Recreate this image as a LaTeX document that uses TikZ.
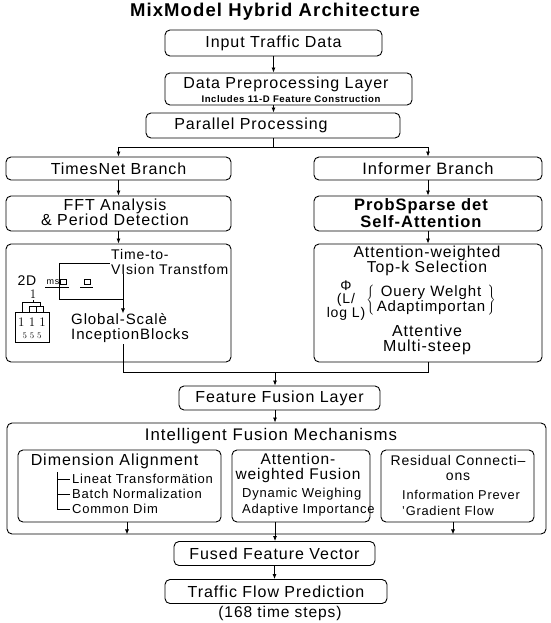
\documentclass[tikz,border=0pt]{standalone}
\usepackage{fontspec}
\setsansfont{Liberation Sans}[LetterSpace=6]
\renewcommand{\familydefault}{\sfdefault}
\usetikzlibrary{positioning,arrows.meta}

\begin{document}
\begin{tikzpicture}[x=1pt,y=-1pt,
  box/.style={draw, rounded corners=5pt, line width=0.9pt, inner sep=0pt},
  lbl/.style={font=\fontsize{16}{15}\selectfont, inner sep=0pt, align=center},
  sml/.style={font=\fontsize{13}{15}\selectfont, inner sep=0pt, align=left},
  arr/.style={-{Latex[length=5pt,width=4pt]}, line width=0.8pt},
  ln/.style={line width=0.8pt}]
\useasboundingbox (0,0) rectangle (550,623);
% Title
\node[font=\fontsize{18.5}{20}\selectfont\bfseries, inner sep=0pt] (title) at (275,12) {MixModel Hybrid Architecture};
% Input and preprocessing
\node[box, lbl, minimum width=217pt, minimum height=26pt] (input) at (273.5,43) {Input Traffic Data};
\node[box, minimum width=247pt, minimum height=32pt] (prep) at (288.5,89) {};
\node[lbl] (prep-t) at (286,84.5) {Data Preprocessing Layer};
\node[font=\fontsize{9.6}{10}\selectfont\bfseries, inner sep=0pt] (prep-s) at (291,99.5) {Includes 11-D Feature Construction};
\node[box, minimum width=254pt, minimum height=25pt] (parallel) at (273,125.5) {};
\node[lbl] (parallel-t) at (251,125) {Parallel Processing};
\coordinate (split) at (273,147);
\draw[arr] (input.south) -- (input.south |- prep.north);
\draw[arr] (input.south |- prep.south) -- (input.south |- parallel.north);
\draw[ln] (parallel.south) -- (split);
% Two branches
\node[box, lbl, minimum width=225pt, minimum height=23pt] (timesnet) at (118.5,168.5) {TimesNet Branch};
\node[box, lbl, minimum width=228pt, minimum height=23pt, font=\fontsize{16.5}{15}\selectfont] (informer) at (428,168.5) {Informer Branch};
\draw[arr] (split) -| (timesnet.north);
\draw[arr] (split) -| (informer.north);
\node[box, minimum width=225pt, minimum height=35pt] (fft) at (118.5,213.5) {};
\node[lbl] (fft-t) at (115,212.5) {FFT Analysis\\\& Period Detection};
\node[box, minimum width=228pt, minimum height=35pt] (prob) at (428,213.5) {};
\node[lbl, font=\fontsize{16.5}{14.5}\selectfont\bfseries] (prob-t) at (421,213) {ProbSparse det\\Self-Attention};
\node[box, minimum width=225pt, minimum height=118pt] (tvbox) at (118.5,303) {};
\node[box, minimum width=228pt, minimum height=118pt] (attbox) at (428,303) {};
\draw[arr] (timesnet) -- (fft);
\draw[arr] (fft) -- (tvbox);
\draw[arr] (informer) -- (prob);
\draw[arr] (prob) -- (attbox);
% Inside TimesNet block
\node[lbl, anchor=west, align=left, font=\fontsize{14}{15}\selectfont] (tvt) at (111,261.5) {Time-to-\\VIsion Transtfom};
\node[lbl, anchor=west, align=left, font=\fontsize{15}{14.5}\selectfont] (incep) at (71,328) {Global-Scalè\\InceptionBlocks};
\coordinate (tvout) at (123,344);
\draw[ln] (59,263) -- (110,263);
\draw[ln] (59,263) -- (59,299) -- (123,299);
\draw[arr] (tvt.south -| tvout) -- (tvout |- incep.north);
\node[font=\fontsize{14}{14}\selectfont, inner sep=0pt] (twod) at (27,281) {2D};
\node[font=\fontsize{9}{9}\selectfont, inner sep=0pt] (msu) at (53,282) {ms};
\draw[line width=0.5pt] (60,279.5) rectangle (66,284.5);
\draw[line width=0.5pt] (84,279) rectangle (90,284.5);
\draw[line width=0.5pt] (45,287) -- (69,287) (80,287) -- (93,287);
\node[font=\rmfamily\fontsize{13}{13}\selectfont, inner sep=0pt] (one) at (33,294) {1};
\draw[line width=0.6pt] (33,300) -- (33,302);
\draw[line width=0.6pt] (22,312) |- (40,302) -- (40,306);
\draw[line width=0.6pt] (29,312) |- (43,306) -- (43,312);
\draw[line width=0.6pt] (36,306) -- (36,312);
\node[draw, line width=0.6pt, minimum width=34pt, minimum height=30pt, inner sep=0pt] (grid) at (32,327) {};
\node[font=\rmfamily\fontsize{13}{13}\selectfont, inner sep=0pt] (ones) at (32,322) {1 1 1};
\node[font=\rmfamily\fontsize{8.5}{9}\selectfont, inner sep=0pt] (fives) at (32,336) {5 5 5};
% Inside Informer block
\node[lbl, font=\fontsize{15.8}{14}\selectfont] (topk) at (427,261) {Attention-weighted\\Top-k Selection};
\node[lbl, font=\fontsize{14}{13}\selectfont] (phi) at (346,301) {Φ\\(L/\\log L)};
\node[lbl, font=\fontsize{15}{15}\selectfont] (qw) at (431,300.5) {\renewcommand{\arraystretch}{0.92}$\left\{\begin{tabular}{@{\,}c@{\,}}Ouery Welght\\Adaptimportan\end{tabular}\right\}$};
\node[lbl] (multi) at (427,340) {Attentive\\Multi-steep};
% Merge into fusion
\coordinate (merge) at (275,372);
\draw[ln] (tvout) |- (merge);
\draw[ln] (attbox.south) |- (merge);
\node[box, lbl, minimum width=201pt, minimum height=24pt] (fusion) at (279.5,398) {Feature Fusion Layer};
\draw[arr] (merge) -- (merge |- fusion.north);
% Intelligent fusion mechanisms
\node[box, minimum width=539pt, minimum height=111pt] (ifm) at (276.5,478.5) {};
\node[lbl, font=\fontsize{16.8}{16}\selectfont] (ifm-t) at (271,436) {Intelligent Fusion Mechanisms};
\draw[arr] (merge |- fusion.south) -- (merge |- ifm.north);
\node[box, minimum width=203pt, minimum height=72pt] (dim) at (119.5,486) {};
\node[box, minimum width=138pt, minimum height=72pt] (awf) at (301,486) {};
\node[box, minimum width=153pt, minimum height=72pt] (res) at (457.5,486) {};
\node[lbl] (dim-t) at (114.5,461) {Dimension Alignment};
\draw[ln] (57,472) -- (57,509);
\foreach \y/\t in {479/Lineat Transformätion, 494/Batch Normalization, 509/Common Dim} {
  \draw[ln] (57,\y) -- (70,\y);
  \node[sml, anchor=west] (dim-\y) at (72,\y) {\t};
}
\node[lbl, font=\fontsize{15.5}{15}\selectfont] (awf-t) at (298,468) {Attention-\\weighted Fusion};
\node[sml, anchor=west, font=\fontsize{13}{16}\selectfont] (awf-d) at (242,502.5) {Dynamic Weighing\\Adaptive Importance};
\node[lbl, font=\fontsize{14}{14.5}\selectfont] (res-t) at (458,468) {Residual Connecti–\\ons};
\node[sml, anchor=west, font=\fontsize{12.8}{16}\selectfont] (res-d) at (402,502.5) {Information Prever\\'Gradient Flow};
\draw[arr] ([xshift=7.5pt]dim.south) -- ([xshift=7.5pt]dim.south |- ifm.south);
\draw[arr] ([xshift=-4.5pt]res.south) -- ([xshift=-4.5pt]res.south |- ifm.south);
% Output
\node[box, lbl, minimum width=201pt, minimum height=24pt] (fused) at (274.5,553.5) {Fused Feature Vector};
\node[box, lbl, minimum width=222pt, minimum height=24pt] (predict) at (276,591.5) {Traffic Flow Prediction};
\node[lbl, font=\fontsize{15.5}{16}\selectfont] (steps) at (280,613.5) {(168 time steps)};
\draw[arr] (merge |- awf.south) -- (merge |- fused.north);
\draw[arr] (fused) -- (fused |- predict.north);
\end{tikzpicture}
\end{document}
